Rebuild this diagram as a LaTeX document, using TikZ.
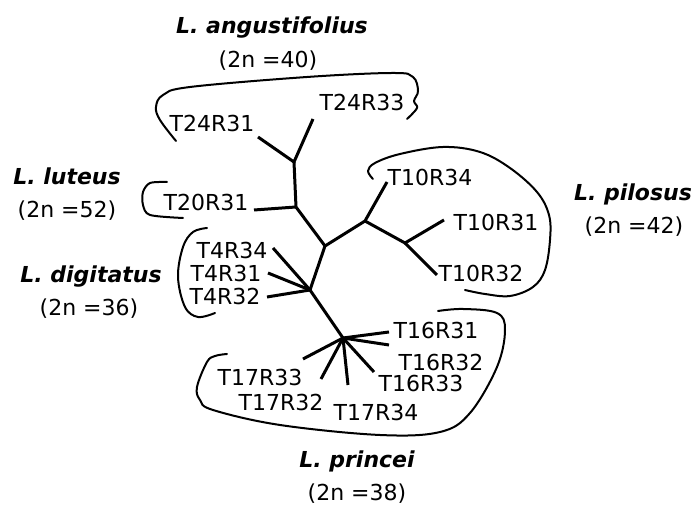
\documentclass[tikz,border=0pt]{standalone}
\usepackage{fontspec}
\setmainfont{DejaVu Sans}
\usetikzlibrary{calc}

\begin{document}
\begin{tikzpicture}[x=0.5pt,y=-0.5pt,
   branch/.style={line width=1.5pt},
   clade/.style={line width=1pt,line cap=round,line join=round},
   tag/.style={inner sep=0pt,font=\fontsize{11}{13}\selectfont},
   species/.style={inner sep=0pt,anchor=base,font=\fontsize{11}{13}\selectfont\bfseries\itshape},
   chrom/.style={inner sep=0pt,anchor=base,font=\fontsize{11}{13}\selectfont}]
  \useasboundingbox (0,0) rectangle (697,506);
  % inner nodes of the tree
  \coordinate (root) at (325,246);
  \coordinate (ang)  at (296,207);
  \coordinate (ang2) at (294,162);
  \coordinate (pil)  at (365,221);
  \coordinate (pil2) at (405,243);
  \coordinate (dig)  at (310,290);
  \coordinate (pri)  at (343,338);
  % leaf ends
  \coordinate (e24a) at (258,137);
  \coordinate (e24b) at (313,119);
  \coordinate (e20)  at (254,210);
  \coordinate (e10d) at (387,182);
  \coordinate (e10a) at (444,220);
  \coordinate (e10b) at (437,275);
  \coordinate (e4d)  at (273,248);
  \coordinate (e4a)  at (268,273);
  \coordinate (e4b)  at (267,297);
  \coordinate (e16a) at (389,332);
  \coordinate (e16b) at (389,345);
  \coordinate (e16c) at (374,372);
  \coordinate (e17d) at (348,385);
  \coordinate (e17b) at (321,379);
  \coordinate (e17c) at (303,359);
  % leaf labels
  \node[tag] (t24r31) at (212,124) {T24R31};
  \node[tag] (t24r33) at (362,103) {T24R33};
  \node[tag] (t20r31) at (206,203) {T20R31};
  \node[tag] (t10r34) at (430,178) {T10R34};
  \node[tag] (t10r31) at (496,223) {T10R31};
  \node[tag] (t10r32) at (481,273) {T10R32};
  \node[tag] (t4r34)  at (232,250) {T4R34};
  \node[tag] (t4r31)  at (226,273) {T4R31};
  \node[tag] (t4r32)  at (225,297) {T4R32};
  \node[tag] (t16r31) at (436,330) {T16R31};
  \node[tag] (t16r32) at (441,362) {T16R32};
  \node[tag] (t16r33) at (421,383) {T16R33};
  \node[tag] (t17r33) at (260,377) {T17R33};
  \node[tag] (t17r32) at (281,402) {T17R32};
  \node[tag] (t17r34) at (376,412) {T17R34};
  % branches
  \draw[branch] (root) -- (ang) -- (ang2);
  \draw[branch] (e24a) -- (ang2) -- (e24b);
  \draw[branch] (ang) -- (e20);
  \draw[branch] (root) -- (pil) -- (e10d);
  \draw[branch] (pil) -- (pil2) -- (e10a);
  \draw[branch] (pil2) -- (e10b);
  \draw[branch] (root) -- (dig) -- (pri);
  \draw[branch] (dig) -- (e4d);
  \draw[branch] (dig) -- (e4a);
  \draw[branch] (dig) -- (e4b);
  \foreach \e in {e16a,e16b,e16c,e17d,e17b,e17c}
    \draw[branch] (pri) -- (\e);
  % species outlines
  \draw[clade] plot[smooth,tension=0.6] coordinates {(176,141) (160,120) (156,107) (163,95) (190,87)
     (307,77) (393,73) (413,77) (418,91) (414,101) (417,108) (407,119)};
  \draw[clade] plot[smooth,tension=0.5] coordinates {(167,182) (150,183) (143,192) (143,205) (150,215) (183,218)};
  \draw[clade] plot[smooth,tension=0.6] coordinates {(207,228) (193,232) (183,247) (178,277) (185,307)
     (198,317) (215,313)};
  \draw[clade] plot[smooth,tension=0.6] coordinates {(373,179) (368,171) (375,163) (400,154) (443,147)
     (480,152) (510,168) (537,192) (549,215) (550,240) (545,270) (533,287) (510,296) (485,294) (465,290)};
  \draw[clade] plot[smooth,tension=0.6] coordinates {(438,311) (463,309) (497,313) (505,330) (497,367)
     (470,413) (440,432) (380,435) (280,425) (213,410) (200,400) (197,387) (207,362) (215,356) (227,354)};
  % species names
  \node[species] (nang) at (272,34)  {L. angustifolius};
  \node[chrom]   (cang) at (268,68)  {(2n =40)};
  \node[species] (nlut) at (67,185)  {L. luteus};
  \node[chrom]   (clut) at (67,218)  {(2n =52)};
  \node[species] (ndig) at (91,283)  {L. digitatus};
  \node[chrom]   (cdig) at (89,316)  {(2n =36)};
  \node[species] (npil) at (633,201) {L. pilosus};
  \node[chrom]   (cpil) at (634,234) {(2n =42)};
  \node[species] (npri) at (357,468) {L. princei};
  \node[chrom]   (cpri) at (357,501) {(2n =38)};
\end{tikzpicture}
\end{document}
